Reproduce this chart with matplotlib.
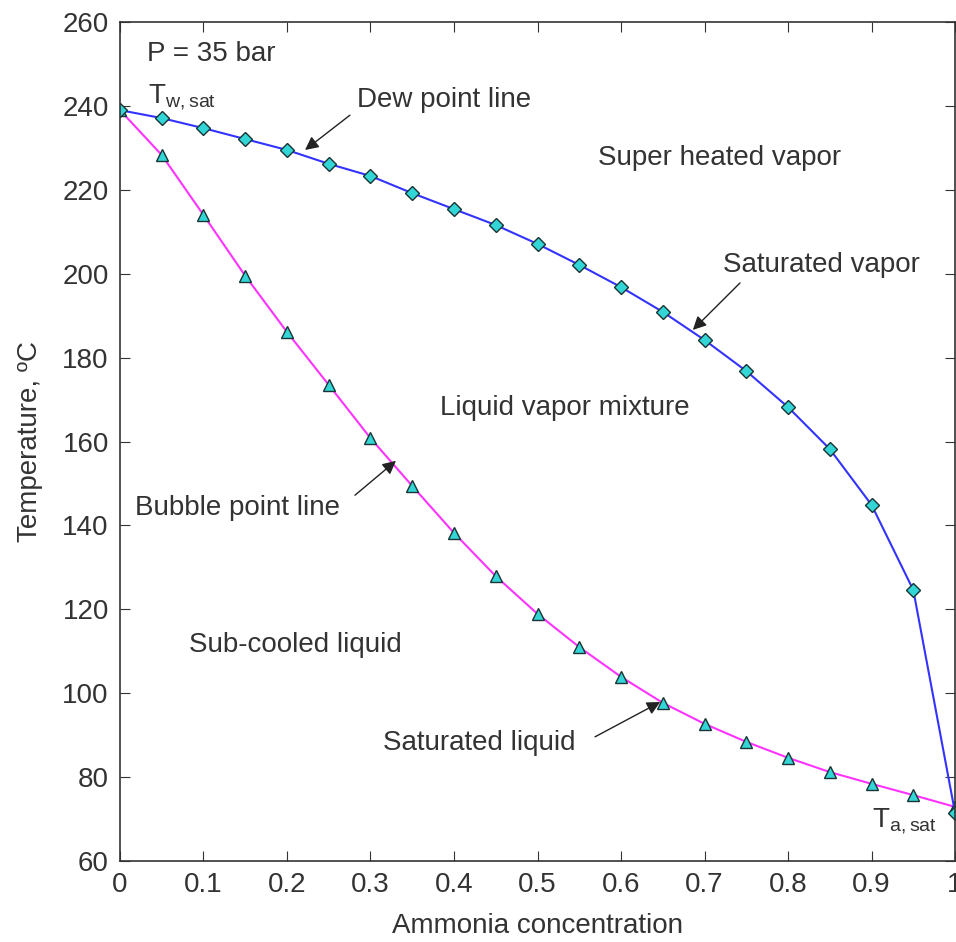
import numpy as np
import matplotlib
matplotlib.use('Agg')
from matplotlib import pyplot as plt

plt.rcParams['font.family'] = ['Liberation Sans', 'DejaVu Sans']
plt.rcParams['font.size'] = 20

# ammonia mass fraction
conc = [0.0, 0.05, 0.1, 0.15, 0.2, 0.25, 0.3, 0.35, 0.4, 0.45, 0.5,
        0.55, 0.6, 0.65, 0.7, 0.75, 0.8, 0.85, 0.9, 0.95, 1.0]
# dew point temperature (saturated vapor), deg C
t_dew = [239.0, 237.1, 234.7, 232.1, 229.5, 226.2, 223.3, 219.2, 215.4, 211.6, 207.1,
         202.1, 196.8, 190.9, 184.2, 176.8, 168.2, 158.2, 144.9, 124.6, 71.5]
# bubble point temperature (saturated liquid), deg C
t_bub = [239.0, 228.3, 214.0, 199.5, 186.1, 173.5, 160.8, 149.4, 138.2, 127.9, 118.9,
         111.0, 103.9, 97.7, 92.7, 88.4, 84.6, 81.2, 78.4, 75.7, 72.9]

fig = plt.figure(figsize=(9.56, 9.42), dpi=100)
ax = fig.add_axes([0.1255, 0.086, 0.8735, 0.8906])

mk = dict(markerfacecolor='#33d6d6', markeredgecolor='#1a3333', markeredgewidth=1.0)
ax.plot(conc, t_bub, '-^', color='#ff33ff', lw=1.5, ms=8, **mk)
ax.plot(conc, t_dew, '-D', color='#3333ff', lw=1.5, ms=7, **mk)

ax.set_xlim(0, 1)
ax.set_ylim(60, 260)
ax.set_xticks(np.arange(0, 1.01, 0.1))
ax.set_xticklabels(['0', '0.1', '0.2', '0.3', '0.4', '0.5', '0.6', '0.7', '0.8', '0.9', '1'])
ax.set_yticks(np.arange(60, 261, 20))
ax.tick_params(direction='in', length=7, top=True, right=True, labelsize=20,
               labelcolor='#333333', color='#333333', pad=8)
for s in ax.spines.values():
    s.set_color('#333333')
    s.set_linewidth(1.2)

tc = '#333333'
ax.set_xlabel('Ammonia concentration', fontsize=20, color=tc, labelpad=11)
ax.set_ylabel('Temperature, ºC', fontsize=20, color=tc, labelpad=14)

ax.text(0.032, 252.5, 'P = 35 bar', color=tc, va='center')
ax.text(0.034, 240.6, r'T$_{\mathregular{w,sat}}$', color=tc, va='baseline')
ax.text(0.900, 67.9, r'T$_{\mathregular{a,sat}}$', color=tc, va='baseline')
ax.text(0.284, 241.5, 'Dew point line', color=tc, va='center')
ax.text(0.572, 227.5, 'Super heated vapor', color=tc, va='center')
ax.text(0.722, 202.0, 'Saturated vapor', color=tc, va='center')
ax.text(0.383, 168.0, 'Liquid vapor mixture', color=tc, va='center')
ax.text(0.018, 144.2, 'Bubble point line', color=tc, va='center')
ax.text(0.083, 111.5, 'Sub-cooled liquid', color=tc, va='center')
ax.text(0.315, 88.2, 'Saturated liquid', color=tc, va='center')

arr = dict(arrowstyle='-|>', color='#222222', lw=1.0, mutation_scale=20,
           shrinkA=0, shrinkB=0)
ax.annotate('', xy=(0.2216, 229.5), xytext=(0.2754, 237.8), arrowprops=arr)
ax.annotate('', xy=(0.686, 186.6), xytext=(0.7425, 197.8), arrowprops=arr)
ax.annotate('', xy=(0.3305, 155.4), xytext=(0.2814, 147.2), arrowprops=arr)
ax.annotate('', xy=(0.647, 97.9), xytext=(0.5689, 89.6), arrowprops=arr)

fig.savefig('out.png', dpi=100)
